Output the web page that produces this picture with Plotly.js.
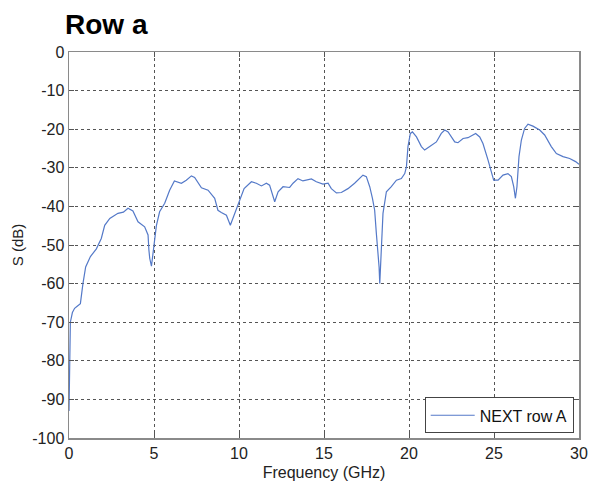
<!DOCTYPE html>
<html>
<head>
<meta charset="utf-8">
<script src="https://cdn.plot.ly/plotly-3.0.1.min.js"></script>
<style>html,body{margin:0;padding:0;background:#fff;}#chart{width:591px;height:484px;}</style>
</head>
<body>
<div id="chart"></div>
<script>
const freqGHz = [0.0,0.02,0.04,0.08,0.2,0.33,0.5,0.67,0.82,0.98,1.26,1.61,1.9,2.1,2.4,2.88,3.2,3.47,3.76,4.06,4.45,4.65,4.7,4.75,4.85,4.9,5.0,5.14,5.33,5.63,5.92,6.2,6.61,6.9,7.2,7.39,7.79,8.18,8.57,8.76,8.96,9.26,9.49,9.74,10.04,10.3,10.73,11.02,11.32,11.61,11.8,11.96,12.1,12.3,12.59,12.98,13.18,13.47,13.76,14.26,14.55,14.94,15.24,15.43,15.73,16.02,16.41,16.8,17.1,17.29,17.49,17.69,17.85,17.98,18.08,18.18,18.24,18.28,18.33,18.39,18.47,18.67,18.96,19.26,19.55,19.75,19.85,19.94,20.08,20.2,20.44,20.73,20.92,21.22,21.61,21.9,22.1,22.3,22.49,22.69,22.88,23.18,23.47,23.67,23.92,24.16,24.35,24.65,24.85,24.98,25.24,25.53,25.82,26.02,26.16,26.26,26.35,26.47,26.61,26.8,27.0,27.29,27.69,27.98,28.37,28.67,29.06,29.45,29.8,30.0];
const nextRowA = [-93,-85,-78,-70,-67.5,-66.4,-65.8,-65.2,-60,-55.7,-53,-51,-48.3,-44.9,-43.1,-41.8,-41.5,-40.5,-41.2,-44,-45.3,-47.4,-51.3,-53.5,-55.5,-53.5,-49.6,-45,-41.4,-39.2,-35.8,-33.4,-34.0,-33.2,-32.1,-32.5,-35.2,-35.8,-37.9,-41,-41.6,-42.3,-44.9,-41.8,-38.4,-35.4,-33.6,-34.0,-34.7,-34.0,-34.5,-36.6,-38.8,-36.2,-34.9,-35.1,-34.0,-32.8,-33.4,-32.9,-33.6,-34.2,-34.0,-35.4,-36.5,-36.4,-35.4,-34.0,-32.8,-31.9,-32.3,-34.9,-37.9,-41,-47,-51.3,-55.7,-60,-53.9,-47,-41.8,-36.2,-34.9,-33.2,-32.8,-31.5,-29.7,-24.5,-21.1,-20.7,-22.0,-24.5,-25.4,-24.5,-23.3,-21.1,-20.2,-20.7,-22.0,-23.3,-23.5,-22.4,-22.2,-21.8,-21.1,-22.0,-23.7,-28.0,-31.5,-33.2,-33.2,-31.9,-31.5,-32.3,-34.9,-37.9,-34.9,-27.1,-22.8,-19.8,-18.7,-19.2,-20.2,-21.5,-24.5,-26.3,-27.1,-27.6,-28.4,-29.1];
const xTickVals = [0, 5, 10, 15, 20, 25, 30];
const xTickText = ['0', '5', '10', '15', '20', '25', '30'];
const yTickVals = [0, -10, -20, -30, -40, -50, -60, -70, -80, -90, -100];
const yTickText = ['0', '-10', '-20', '-30', '-40', '-50', '-60', '-70', '-80', '-90', '-100'];
const seriesName = 'NEXT row A';
const chartTitle = 'Row a';
const xTitle = 'Frequency (GHz)';
const yTitle = 'S (dB)';

const fontFam = 'Liberation Sans, Arial, Helvetica, sans-serif';
const axisCommon = {
  showline: true, linecolor: '#8a8a8a', linewidth: 1.5, mirror: 'allticks',
  ticks: 'inside', ticklen: 5, tickcolor: '#555', tickwidth: 1,
  showgrid: true, gridcolor: '#555', griddash: 'dot', gridwidth: 1,
  zeroline: false, tickfont: {family: fontFam, size: 16, color: '#222'},
  tickmode: 'array', fixedrange: true
};
const data = [{
  x: freqGHz, y: nextRowA, type: 'scatter', mode: 'lines', name: seriesName,
  line: {color: '#5479c8', width: 1.2}
}];
const layout = {
  width: 591, height: 484,
  margin: {l: 69, r: 12, t: 52, b: 46},
  paper_bgcolor: '#fff', plot_bgcolor: '#fff',
  title: {text: '<b>' + chartTitle + '</b>', x: 65/591, xanchor: 'left', xref: 'container',
          y: 1 - 24/484, yanchor: 'middle', yref: 'container',
          font: {family: fontFam, size: 28, color: '#000'}},
  xaxis: Object.assign({}, axisCommon, {range: [0, 30], tickvals: xTickVals, ticktext: xTickText,
    title: {text: xTitle, standoff: 6, font: {family: fontFam, size: 16, color: '#222'}}}),
  yaxis: Object.assign({}, axisCommon, {range: [-100, 0], tickvals: yTickVals, ticktext: yTickText,
    title: {text: yTitle, standoff: 5, font: {family: fontFam, size: 15, color: '#222'}}}),
  showlegend: true,
  legend: {x: 0.9896, xanchor: 'right', y: 0.012, yanchor: 'bottom',
    bgcolor: '#fff', bordercolor: '#444', borderwidth: 1, itemwidth: 44,
    font: {family: fontFam, size: 16, color: '#111'}}
};
Plotly.newPlot('chart', data, layout, {staticPlot: true, displayModeBar: false});
</script>
</body>
</html>
